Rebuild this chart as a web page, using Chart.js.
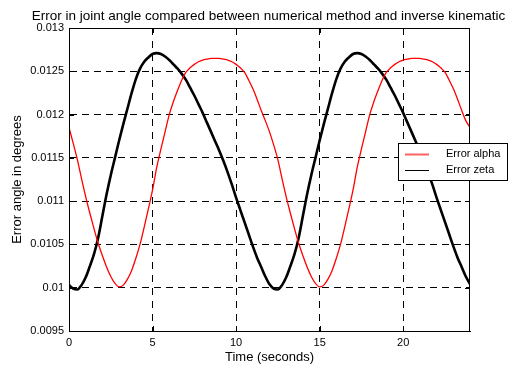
<!DOCTYPE html>
<html>
<head>
<meta charset="utf-8">
<script src="https://cdn.jsdelivr.net/npm/chart.js@4/dist/chart.umd.min.js"></script>
<style>
  html, body { margin: 0; padding: 0; background: #fff; }
  #wrap { width: 516px; height: 366px; }
</style>
</head>
<body>
<div id="wrap"><canvas id="grafica"></canvas></div>
<script>
// tiempo (s)
const tiempos = [
  0, 0.25, 0.5, 0.75, 1, 1.25, 1.5, 1.75, 2, 2.25, 2.5, 2.75,
  3, 3.25, 3.5, 3.75, 4, 4.25, 4.5, 4.75, 5, 5.25, 5.5, 5.75,
  6, 6.25, 6.5, 6.75, 7, 7.25, 7.5, 7.75, 8, 8.25, 8.5, 8.75,
  9, 9.25, 9.5, 9.75, 10, 10.25, 10.5, 10.75, 11, 11.25, 11.5, 11.75,
  12, 12.25, 12.5, 12.75, 13, 13.25, 13.5, 13.75, 14, 14.25, 14.5, 14.75,
  15, 15.25, 15.5, 15.75, 16, 16.25, 16.5, 16.75, 17, 17.25, 17.5, 17.75,
  18, 18.25, 18.5, 18.75, 19, 19.25, 19.5, 19.75, 20, 20.25, 20.5, 20.75,
  21, 21.25, 21.5, 21.75, 22, 22.25, 22.5, 22.75, 23, 23.25, 23.5, 23.75, 24
];

// Error alpha (rojo)
const errorAlpha = [
  0.01185, 0.01167, 0.01148, 0.01126, 0.01105, 0.01086, 0.01068, 0.01051, 0.01037, 0.01024, 0.01013, 0.01005,
  0.01001, 0.01003, 0.01010, 0.01020, 0.01034, 0.01050, 0.01070, 0.01091, 0.01113, 0.01139, 0.01160, 0.01180,
  0.01200, 0.01215, 0.01228, 0.01240, 0.01249, 0.01254, 0.01258, 0.01261, 0.01263, 0.01264, 0.01265, 0.01265,
  0.01265, 0.01264, 0.01263, 0.01261, 0.01258, 0.01254, 0.01249, 0.01240, 0.01230, 0.01218, 0.01205, 0.01193,
  0.01180, 0.01165, 0.01148, 0.01126, 0.01105, 0.01086, 0.01068, 0.01051, 0.01037, 0.01024, 0.01013, 0.01005,
  0.01001, 0.01003, 0.01010, 0.01020, 0.01034, 0.01050, 0.01070, 0.01091, 0.01113, 0.01139, 0.01160, 0.01180,
  0.01200, 0.01215, 0.01228, 0.01240, 0.01249, 0.01254, 0.01258, 0.01261, 0.01263, 0.01264, 0.01265, 0.01265,
  0.01265, 0.01264, 0.01263, 0.01261, 0.01258, 0.01254, 0.01249, 0.01240, 0.01230, 0.01218, 0.01205, 0.01193,
  0.01185
];

// Error zeta (negro)
const errorZeta = [
  0.01003, 0.00999, 0.00998, 0.01003, 0.01012, 0.01025, 0.01039, 0.01058, 0.01083, 0.01108, 0.01130, 0.01150,
  0.01170, 0.01189, 0.01207, 0.01225, 0.01241, 0.01253, 0.01261, 0.01266, 0.01270, 0.01271, 0.01270, 0.01267,
  0.01263, 0.01258, 0.01253, 0.01247, 0.01240, 0.01231, 0.01222, 0.01212, 0.01202, 0.01191, 0.01180, 0.01169,
  0.01158, 0.01146, 0.01133, 0.01119, 0.01104, 0.01090, 0.01076, 0.01062, 0.01048, 0.01035, 0.01024, 0.01013,
  0.01004, 0.00999, 0.00998, 0.01003, 0.01012, 0.01025, 0.01039, 0.01058, 0.01083, 0.01108, 0.01130, 0.01150,
  0.01170, 0.01189, 0.01207, 0.01225, 0.01241, 0.01253, 0.01261, 0.01266, 0.01270, 0.01271, 0.01270, 0.01267,
  0.01263, 0.01258, 0.01253, 0.01247, 0.01240, 0.01231, 0.01222, 0.01212, 0.01202, 0.01191, 0.01180, 0.01169,
  0.01158, 0.01146, 0.01133, 0.01119, 0.01104, 0.01090, 0.01076, 0.01062, 0.01048, 0.01035, 0.01024, 0.01013,
  0.01004
];

// marcas de los ejes
const xTicks = [0, 5, 10, 15, 20];
const yTicks = [0.0095, 0.01, 0.0105, 0.011, 0.0115, 0.012, 0.0125, 0.013];
const yTickLabels = ['0.0095', '0.01', '0.0105', '0.011', '0.0115', '0.012', '0.0125', '0.013'];

const titulo = 'Error in joint angle compared between numerical method and inverse kinematic';
const fuente = '"Liberation Sans", Arial, sans-serif';

// Marco estilo MATLAB: caja, marcas hacia dentro, título y leyenda
const marcoPlugin = {
    id: 'marco',
    afterDraw(chart) {
        const { ctx, chartArea: a, scales } = chart;
        ctx.save();
        ctx.strokeStyle = '#000';
        ctx.lineWidth = 1;
        ctx.setLineDash([]);
        ctx.strokeRect(a.left + 0.5, a.top + 0.5, a.right - a.left - 1, a.bottom - a.top);

        // marcas hacia dentro
        ctx.beginPath();
        xTicks.forEach(v => {
            const x = Math.round(scales.x.getPixelForValue(v)) + 0.5;
            ctx.moveTo(x, a.bottom); ctx.lineTo(x, a.bottom - 5);
            ctx.moveTo(x, a.top); ctx.lineTo(x, a.top + 5);
        });
        yTicks.forEach(v => {
            const y = Math.round(scales.y.getPixelForValue(v)) + 0.5;
            ctx.moveTo(a.left, y); ctx.lineTo(a.left + 5, y);
            ctx.moveTo(a.right, y); ctx.lineTo(a.right - 5, y);
        });
        ctx.stroke();

        // título
        ctx.fillStyle = '#000';
        ctx.font = '13.5px ' + fuente;
        ctx.textAlign = 'center';
        ctx.textBaseline = 'alphabetic';
        ctx.fillText(titulo, (a.left + a.right) / 2 - 1, 20);

        // leyenda
        const lx = 398, ly = 143, lw = 109, lh = 37;
        ctx.fillStyle = '#fff';
        ctx.fillRect(lx, ly, lw, lh);
        ctx.strokeStyle = '#000';
        ctx.strokeRect(lx + 0.5, ly + 0.5, lw, lh);
        ctx.font = '11px ' + fuente;
        ctx.textAlign = 'left';
        ctx.textBaseline = 'middle';
        chart.data.datasets.forEach((ds, i) => {
            const yy = ly + 11 + i * 16;
            ctx.strokeStyle = i === 0 ? '#ff6060' : '#000';
            ctx.lineWidth = i === 0 ? 2 : 1;
            ctx.beginPath();
            ctx.moveTo(lx + 7, yy + 0.5); ctx.lineTo(lx + 31, yy + 0.5);
            ctx.stroke();
            ctx.fillStyle = '#000';
            ctx.fillText(ds.label, lx + 48, yy);
        });
        ctx.restore();
    }
};

const canvas = document.getElementById('grafica');

new Chart(canvas, {
    type: 'line',
    data: {
        labels: tiempos,
        datasets: [
            {
                label: 'Error alpha',
                data: errorAlpha,
                borderColor: '#ff0000',
                borderWidth: 1.3,
                pointRadius: 0,
                cubicInterpolationMode: 'monotone',
            },
            {
                label: 'Error zeta',
                data: errorZeta,
                borderColor: '#000000',
                borderWidth: 2.6,
                pointRadius: 0,
                cubicInterpolationMode: 'monotone',
            },
        ],
    },
    options: {
        responsive: true,
        maintainAspectRatio: false,
        animation: false,
        layout: { padding: { top: 28, left: 0, right: 46, bottom: 0 } },
        plugins: {
            legend: { display: false },
            tooltip: { enabled: false },
        },
        scales: {
            x: {
                type: 'linear',
                min: 0,
                max: 24,
                afterFit: s => { s.height = 35; },
                afterBuildTicks: s => { s.ticks = xTicks.map(v => ({ value: v })); },
                grid: { color: '#000', lineWidth: 1, drawTicks: false },
                border: { display: true, color: '#000', dash: [7, 6] },
                ticks: {
                    color: '#000',
                    padding: 5,
                    maxRotation: 0,
                    font: { family: fuente, size: 11 },
                    callback: v => String(v),
                },
                title: {
                    display: true,
                    text: 'Time (seconds)',
                    color: '#000',
                    font: { family: fuente, size: 13 },
                    padding: { top: 0, bottom: 1 },
                },
            },
            y: {
                min: 0.0095,
                max: 0.013,
                afterFit: s => { s.width = 69; },
                afterBuildTicks: s => { s.ticks = yTicks.map(v => ({ value: v })); },
                grid: { color: '#000', lineWidth: 1, drawTicks: false },
                border: { display: true, color: '#000', dash: [7, 5] },
                ticks: {
                    color: '#000',
                    padding: 5,
                    font: { family: fuente, size: 11 },
                    callback: (v, i) => yTickLabels[i],
                },
                title: {
                    display: true,
                    text: 'Error angle in degrees',
                    color: '#000',
                    font: { family: fuente, size: 13 },
                    padding: { top: 10, bottom: 0 },
                },
            },
        },
    },
    plugins: [marcoPlugin],
});
</script>
</body>
</html>
